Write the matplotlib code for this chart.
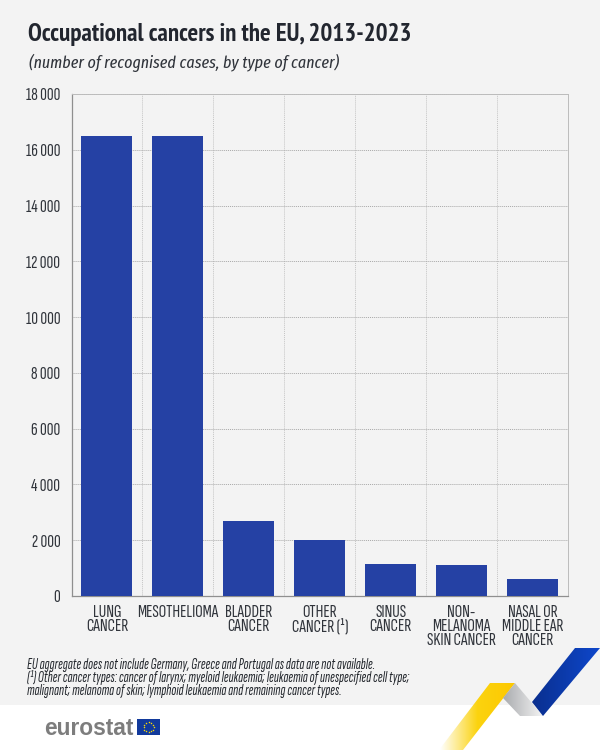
import matplotlib
matplotlib.use('Agg')
import numpy as np
import matplotlib.pyplot as plt
from matplotlib.patches import Polygon, Rectangle
from matplotlib.colors import LinearSegmentedColormap

categories = ['LUNG\nCANCER', 'MESOTHELIOMA', 'BLADDER\nCANCER', 'OTHER\nCANCER (¹)', 'SINUS\nCANCER',
              'NON-\nMELANOMA\nSKIN CANCER', 'NASAL OR\nMIDDLE EAR\nCANCER']
cases = [16510, 16480, 2700, 2010, 1150, 1100, 620]
yticks = [0, 2000, 4000, 6000, 8000, 10000, 12000, 14000, 16000, 18000]
ytick_labels = ['0', '2 000', '4 000', '6 000', '8 000', '10 000', '12 000', '14 000', '16 000', '18 000']

title = 'Occupational cancers in the EU, 2013-2023'
subtitle = '(number of recognised cases, by type of cancer)'
notes = ['EU aggregate does not include Germany, Greece and Portugal as data are not available.',
         '(¹) Other cancer types: cancer of larynx; myeloid leukaemia; leukaemia of unespecified cell type;',
         'malignant; melanoma of skin; lymphoid leukaemia and remaining cancer types.']

title_font = ['PT Sans Narrow', 'Liberation Sans', 'DejaVu Sans']
sub_font = ['Fira Sans Extra Condensed', 'PT Sans Narrow', 'Liberation Sans', 'DejaVu Sans']
small_font = ['Sofia Sans Extra Condensed', 'Fira Sans Extra Condensed', 'Liberation Sans', 'DejaVu Sans']
plt.rcParams['font.family'] = small_font

W, H = 600, 750
fig = plt.figure(figsize=(W / 100, H / 100), dpi=100, facecolor='white')

# background layer in pixel coords, y going down
bg = fig.add_axes([0, 0, 1, 1])
bg.set_xlim(0, W)
bg.set_ylim(H, 0)
bg.axis('off')
bg.add_patch(Rectangle((0, 0), W, 705, color='#f3f3f3', lw=0))


def ribbon(pts, colors, extent):
    # gradient filled polygon, used for the logo ribbon
    cmap = LinearSegmentedColormap.from_list('r', colors)
    grad = np.linspace(0, 1, 200).reshape(1, -1)
    im = bg.imshow(grad, cmap=cmap, extent=extent, aspect='auto', zorder=2)
    im.set_clip_path(Polygon(pts, transform=bg.transData))


ribbon([(490, 683), (515, 683), (463, 750), (439, 750)], ['#ffffff', '#fbd30f', '#fdc800'], (440, 515, 750, 683))
ribbon([(515, 683), (503, 698), (520, 716), (543, 716)], ['#a9abae', '#f4f4f4'], (503, 543, 716, 683))
ribbon([(575, 648), (600, 648), (543, 716), (532, 702)], ['#0a2f8f', '#0e47cb'], (532, 600, 716, 648))
bg.set_xlim(0, W)
bg.set_ylim(H, 0)

# eurostat logo
bg.text(44, 735, 'eurostat', fontsize=16.4, fontweight='bold', color='#7d7d7d', family=['Liberation Sans', 'DejaVu Sans'],
        va='baseline', ha='left')
bg.add_patch(Rectangle((137, 719), 23, 16, color='#123a9c', lw=0, zorder=3))
angles = np.arange(12) * np.pi / 6
bg.scatter(148.5 + 5 * np.cos(angles), 727 + 5 * np.sin(angles), s=1.2, color='#f5d90a', lw=0, zorder=4)

# title block
bg.text(28, 41, title, fontsize=18, fontweight='bold', color='#22262f', va='baseline', family=title_font)
bg.text(29, 68.5, subtitle, fontsize=12.5, style='italic', color='#30343b', va='baseline', family=sub_font)

# notes
for i, line in enumerate(notes):
    bg.text(27, 669.5 + i * 12.8, line, fontsize=10.8, style='italic', color='#24282e', va='baseline')

# main chart, placed by pixels
left, right, top, bottom = 71.5, 568, 94, 596
ax = fig.add_axes([left / W, 1 - bottom / H, (right - left) / W, (bottom - top) / H])
ax.patch.set_alpha(0)
x = np.arange(len(categories))
ax.bar(x, cases, width=0.72, color='#2541a4', zorder=3)
ax.set_xlim(-0.5, len(categories) - 0.5)
ax.set_ylim(0, 18000)
ax.set_yticks(yticks)
ax.set_yticklabels(ytick_labels, fontsize=13.5, color='#30343b')
ax.set_xticks(x)
ax.set_xticklabels(categories, fontsize=13.5, color='#30343b', linespacing=0.84)
ax.tick_params(axis='both', length=0)
ax.tick_params(axis='y', pad=8)
ax.tick_params(axis='x', pad=6)
ax.yaxis.grid(True, color='#a8a8a8', lw=0.7, ls=(0, (1, 1)), zorder=0)
ax.set_xticks(x[:-1] + 0.5, minor=True)
ax.tick_params(axis='x', which='minor', length=0)
ax.xaxis.grid(True, which='minor', color='#c4c4c4', lw=0.7, ls=(0, (1, 1)), zorder=0)
for side in ['top', 'right']:
    ax.spines[side].set_color('#bcbcbc')
    ax.spines[side].set_linewidth(0.7)
    ax.spines[side].set_linestyle((0, (1, 1)))
for side in ['left', 'bottom']:
    ax.spines[side].set_color('#8f8f8f')
    ax.spines[side].set_linewidth(0.9)

fig.savefig('out.png', dpi=100, facecolor=fig.get_facecolor())
